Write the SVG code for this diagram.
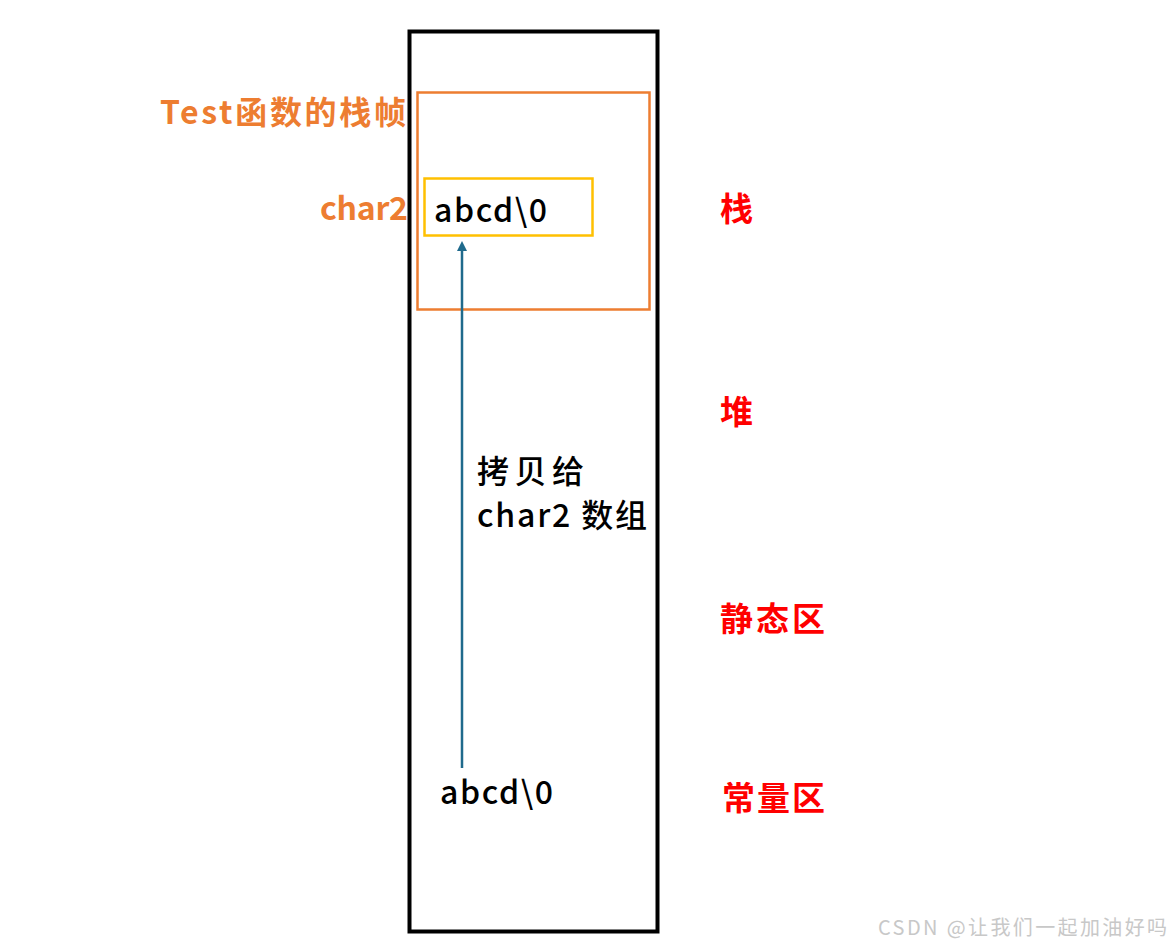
<svg xmlns="http://www.w3.org/2000/svg" width="1171" height="947" viewBox="0 0 1171 947">
<style>
.t{font-family:"Noto Sans CJK SC","Noto Sans",sans-serif}
.or{fill:#ED7D31;font-weight:700;font-size:32px}
.bk{fill:#000;font-weight:500;font-size:32px}
.rd{fill:#FF0000;font-weight:700;font-size:33px}
</style>
<defs>
<marker id="ah" markerWidth="10" markerHeight="10" refX="5" refY="5" orient="auto" markerUnits="userSpaceOnUse">
<path d="M0,0 L10,5 L0,10 z" fill="#1F6A8C"/>
</marker>
</defs>
<rect width="1171" height="947" fill="#fff"/>
<g id="memory">
<rect x="409.5" y="31.5" width="248" height="900" fill="none" stroke="#000" stroke-width="4"/>
</g>
<g id="stackframe">
<rect x="417.5" y="92.5" width="232" height="217" fill="none" stroke="#ED7D31" stroke-width="2.5"/>
<text class="t or" x="160" y="124" textLength="246">Test函数的栈帧</text>
</g>
<g id="char2">
<rect x="424.5" y="178.5" width="168" height="57" fill="none" stroke="#FFC000" stroke-width="2.5"/>
<text class="t or" x="320" y="220" textLength="88">char2</text>
<text class="t bk" x="434" y="222" textLength="113">abcd\0</text>
</g>
<g id="constant">
<text class="t bk" x="440" y="804" textLength="113">abcd\0</text>
</g>
<g id="connectors">
<line x1="462" y1="768" x2="462" y2="246" stroke="#1F6A8C" stroke-width="2.5" marker-end="url(#ah)"/>
<text class="t bk" x="477" y="483" textLength="107">拷贝给</text>
<text class="t bk" x="477" y="527" textLength="170">char2 数组</text>
</g>
<g id="labels">
<text class="t rd" x="720" y="221" textLength="32">栈</text>
<text class="t rd" x="720" y="424" textLength="32">堆</text>
<text class="t rd" x="720" y="631" textLength="105">静态区</text>
<text class="t rd" x="722" y="810" textLength="103">常量区</text>
</g>
<text class="t" x="878" y="935" font-size="20" fill="#C8C8C8" textLength="289">CSDN @让我们一起加油好吗</text>
</svg>
